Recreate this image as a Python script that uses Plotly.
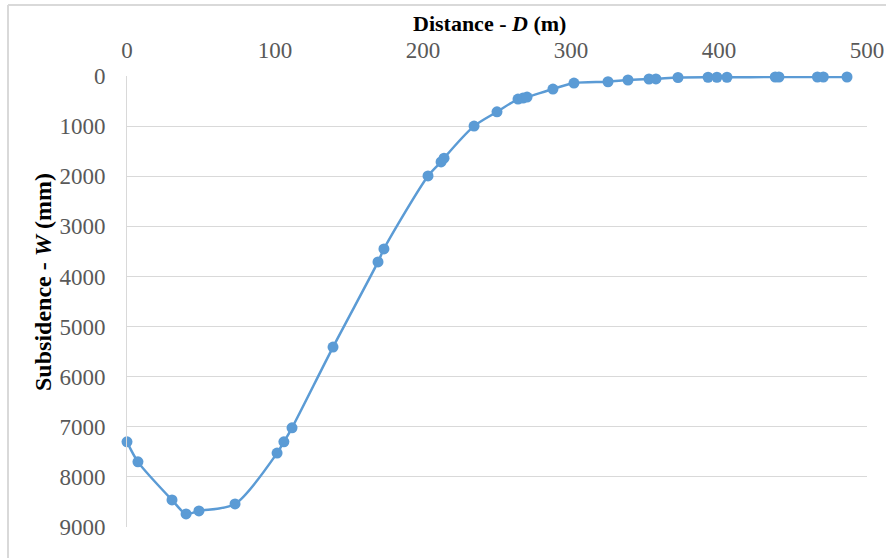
import plotly.graph_objects as go

distance_m = [0, 7.4, 30.4, 39.9, 48.6, 73, 101.4, 106, 111.5, 139.2, 169.6, 173.6,
              203.4, 212.2, 214.2, 234.5, 250, 264.2, 267.6, 270.3, 287.8, 302,
              325, 338.5, 352.7, 357.4, 372.3, 392.6, 398.6, 405.4, 438, 440.5,
              466.5, 470.5, 486.5]
subsidence_mm = [7300, 7700, 8460, 8740, 8680, 8540, 7525, 7300, 7020, 5410, 3710, 3450,
                 1995, 1715, 1640, 1000, 715, 460, 440, 420, 260, 140,
                 115, 80, 60, 58, 30, 25, 25, 25, 20, 20,
                 20, 20, 20]
x_ticks = [0, 100, 200, 300, 400, 500]
y_ticks = [0, 1000, 2000, 3000, 4000, 5000, 6000, 7000, 8000, 9000]

W, H = 886, 558
L, R, T, B = 127, 19, 76, 31

fig = go.Figure()
fig.add_trace(go.Scatter(
    x=distance_m, y=subsidence_mm, mode="lines+markers",
    line=dict(color="#5B9BD5", width=2.5, shape="spline", smoothing=0.8),
    marker=dict(color="#5B9BD5", size=11),
    showlegend=False, cliponaxis=False,
))

font_family = "Liberation Serif"
fig.update_layout(
    width=W, height=H,
    margin=dict(l=L, r=R, t=T, b=B, autoexpand=False),
    paper_bgcolor="white", plot_bgcolor="white",
    xaxis=dict(
        side="top", range=[0, 500], tickvals=x_ticks, showgrid=False,
        zeroline=False, showline=False, ticks="", automargin=False,
        tickfont=dict(family=font_family, size=23, color="#595959"),
        ticklabelstandoff=12,
    ),
    yaxis=dict(
        range=[9000, 0], tickvals=y_ticks, showgrid=True, gridcolor="#D9D9D9",
        gridwidth=1, zeroline=False, showline=True, linecolor="#D9D9D9",
        linewidth=1, ticks="", automargin=False,
        tickfont=dict(family=font_family, size=23, color="#595959"),
        ticklabelstandoff=16,
    ),
)

pw = W - L - R
ph = H - T - B
def px_x(p):
    return (p - L) / pw
def px_y(p):
    return 1 - (p - T) / ph

fig.add_annotation(
    text="<b>Distance - <i>D</i> (m)</b>", xref="paper", yref="paper",
    x=px_x(489), y=px_y(23), xanchor="center", yanchor="middle", showarrow=False,
    font=dict(family=font_family, size=22, color="black"),
)
fig.add_annotation(
    text="<b>Subsidence - <i>W</i> (mm)</b>", xref="paper", yref="paper",
    x=px_x(43), y=px_y(282), xanchor="center", yanchor="middle", showarrow=False,
    textangle=-90,
    font=dict(family=font_family, size=24, color="black"),
)

# outer chart border (left and top visible)
fig.add_shape(type="line", xref="paper", yref="paper",
              x0=px_x(8), x1=px_x(8), y0=px_y(5), y1=px_y(600),
              line=dict(color="#D9D9D9", width=2))
fig.add_shape(type="line", xref="paper", yref="paper",
              x0=px_x(8), x1=px_x(950), y0=px_y(5), y1=px_y(5),
              line=dict(color="#D9D9D9", width=2))

fig.write_html("out.html", config={"displayModeBar": False},
               post_script="document.body.style.margin='0';document.body.style.overflow='hidden';")
